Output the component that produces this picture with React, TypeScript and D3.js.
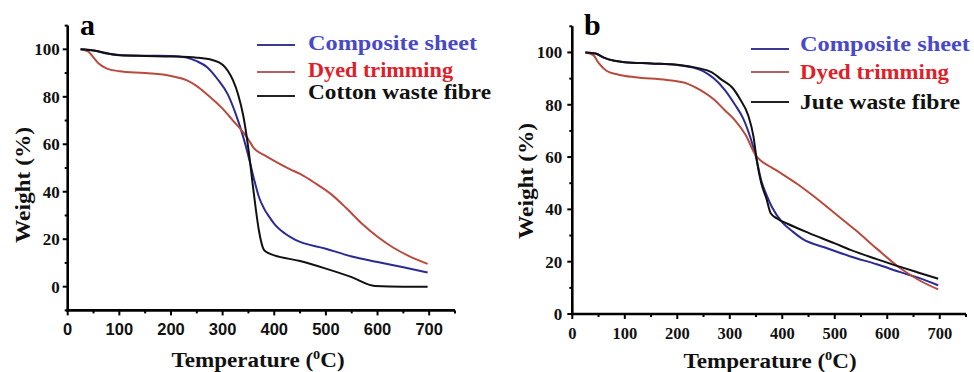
import React from "react";
import * as d3 from "d3";

type Pt = [number, number];

// ---------- Panel a data ----------
const aComposite: Pt[] = [
  [25, 100], [50, 99.5], [75, 98.2], [100, 97.6], [150, 97.3], [200, 97.2], [230, 96.5],
  [250, 95], [270, 92.5], [290, 87.5], [310, 81], [325, 73], [340, 63], [350, 55],
  [360, 46], [370, 38], [380, 33], [390, 29.5], [400, 26.5], [420, 22.5], [440, 19.8],
  [500, 16], [550, 12.7], [600, 10.4], [650, 8.2], [697, 6],
];
const aDyed: Pt[] = [
  [25, 100], [40, 99], [50, 96.5], [60, 94], [75, 92], [100, 90.8], [150, 90], [200, 88.8],
  [230, 87], [250, 84.5], [270, 81], [300, 75], [320, 70], [340, 65], [350, 62], [360, 58.5],
  [380, 55.5], [400, 53], [430, 49.5], [450, 47.5], [480, 43.5], [510, 39], [540, 33],
  [570, 26.5], [600, 21], [630, 16.5], [660, 13], [697, 9.6],
];
const aCotton: Pt[] = [
  [25, 100], [50, 99.5], [100, 97.5], [150, 97.2], [200, 97], [250, 96.5], [280, 95.5],
  [300, 93.5], [310, 91], [320, 87], [330, 81], [340, 72], [350, 58], [360, 40], [370, 24],
  [380, 15.5], [390, 14], [400, 13.2], [450, 10.8], [500, 7.6], [550, 4], [595, 0.3],
  [650, 0], [697, 0],
];

// ---------- Panel b data ----------
const bComposite: Pt[] = [
  [25, 100], [45, 99.5], [60, 98], [80, 96.8], [100, 96.3], [150, 95.8], [200, 95.2],
  [230, 94.2], [250, 92.8], [270, 90], [290, 85.8], [310, 80], [325, 75], [340, 67],
  [350, 60], [360, 51], [370, 45.5], [380, 41], [400, 35], [420, 31.5], [440, 28.5],
  [480, 25.5], [530, 22], [580, 19], [625, 16], [660, 13.8], [697, 11],
];
const bDyed: Pt[] = [
  [25, 100], [40, 99], [50, 96], [65, 93], [88, 91.5], [120, 90.5], [180, 89.5], [220, 88],
  [245, 85.5], [270, 82], [290, 78], [310, 74], [330, 68.5], [350, 60.5], [360, 58.5],
  [380, 56], [400, 53.5], [430, 49.5], [460, 45], [500, 38.5], [540, 32], [580, 25],
  [625, 17.5], [660, 13], [697, 9.4],
];
const bJute: Pt[] = [
  [25, 100], [45, 99.6], [60, 98], [80, 96.8], [100, 96.3], [150, 95.8], [200, 95.3],
  [240, 94], [265, 92.5], [285, 89.5], [305, 86.5], [320, 82], [335, 76], [345, 68],
  [352, 58], [360, 50], [370, 44], [378, 38.5], [390, 36.5], [410, 34.5], [450, 31],
  [500, 27], [530, 24.5], [580, 21], [625, 18], [660, 15.8], [697, 13.5],
];

const xTicks = [0, 100, 200, 300, 400, 500, 600, 700];
const xMinor = [50, 150, 250, 350, 450, 550, 650, 750];
const yTicks = [0, 20, 40, 60, 80, 100];
const yMinorA = [-10, 10, 30, 50, 70, 90, 110];
const yMinorB = [10, 30, 50, 70, 90, 110];

const legendA = ["Composite sheet", "Dyed trimming", "Cotton waste fibre"];
const legendB = ["Composite sheet", "Dyed trimming", "Jute waste fibre"];

const LINE_COLORS = ["#2b2b96", "#b84a3e", "#111111"];
const LEGEND_LINE_COLORS = ["#3a3a90", "#b06060", "#222222"];
const TEXT_COLORS = ["#4848c8", "#e02028", "#111111"];

const SERIF = "'Liberation Serif', 'Times New Roman', serif";
const SANS = "'Liberation Sans', Arial, sans-serif";

interface PanelProps {
  x: d3.ScaleLinear<number, number>;
  y: d3.ScaleLinear<number, number>;
  series: Pt[][];
  yMinor: number[];
  xFont: string;
  xLabelY: number;
  yLabelGap: number;
  letter: string;
  letterPos: [number, number];
  yTitlePos: [number, number];
  xTitlePos: [number, number];
  legend: string[];
  legendLineX: [number, number];
  legendLineY: number[];
  legendTextX: number;
  legendTextY: number[];
  legendWidths: number[];
}

function Panel(p: PanelProps) {
  const { x, y } = p;
  const [x0, x1] = x.range();
  const [y0, y1] = y.range();
  const line = d3
    .line<Pt>()
    .x((d) => x(d[0]))
    .y((d) => y(d[1]))
    .curve(d3.curveMonotoneX);
  return (
    <g>
      {p.series.map((s, i) => (
        <path
          key={i}
          d={line(s) || ""}
          fill="none"
          stroke={LINE_COLORS[i]}
          strokeWidth={2}
          strokeLinejoin="round"
        />
      ))}
      {/* axes */}
      <line x1={x0} x2={x0} y1={y0 + 1.2} y2={y1} stroke="#000" strokeWidth={2.6} />
      <line x1={x0 - 1.2} x2={x1} y1={y0} y2={y0} stroke="#000" strokeWidth={2.6} />
      {xTicks.map((t) => (
        <g key={"xt" + t}>
          <line x1={x(t)} x2={x(t)} y1={y0} y2={y0 + 5} stroke="#000" strokeWidth={2} />
          <text
            x={x(t)}
            y={p.xLabelY}
            textAnchor="middle"
            fontFamily={p.xFont}
            fontWeight="bold"
            fontSize={16.5}
            fill="#111"
          >
            {t}
          </text>
        </g>
      ))}
      {xMinor.map((t) => (
        <line key={"xm" + t} x1={x(t)} x2={x(t)} y1={y0} y2={y0 + 3} stroke="#000" strokeWidth={2} />
      ))}
      {yTicks.map((t) => (
        <g key={"yt" + t}>
          <line x1={x0 - 5} x2={x0} y1={y(t)} y2={y(t)} stroke="#000" strokeWidth={2} />
          <text
            x={x0 - p.yLabelGap}
            y={y(t)}
            dy="0.35em"
            textAnchor="end"
            fontFamily={SERIF}
            fontWeight="bold"
            fontSize={17}
            fill="#111"
          >
            {t}
          </text>
        </g>
      ))}
      {p.yMinor.map((t) => (
        <line key={"ym" + t} x1={x0 - 3} x2={x0} y1={y(t)} y2={y(t)} stroke="#000" strokeWidth={2} />
      ))}
      {/* panel letter */}
      <text
        x={p.letterPos[0]}
        y={p.letterPos[1]}
        fontFamily={SERIF}
        fontWeight="bold"
        fontSize={30}
        fill="#000"
      >
        {p.letter}
      </text>
      {/* y title */}
      <g transform={`translate(${p.yTitlePos[0]},${p.yTitlePos[1]}) rotate(-90)`}>
        <text
          textAnchor="middle"
          fontFamily={SERIF}
          fontWeight="bold"
          fontSize={21}
          fill="#111"
          textLength={116}
          lengthAdjust="spacingAndGlyphs"
        >
          Weight (%)
        </text>
      </g>
      {/* x title */}
      <g transform={`translate(${p.xTitlePos[0]},${p.xTitlePos[1]}) scale(1.1,1)`}>
        <text textAnchor="middle" fontFamily={SERIF} fontWeight="bold" fontSize={21} fill="#111">
          Temperature (
          <tspan fontSize={13} dy={-8}>
            0
          </tspan>
          <tspan dy={8}>C)</tspan>
        </text>
      </g>
      {/* legend */}
      {p.legend.map((name, i) => (
        <g key={"lg" + i}>
          <line
            x1={p.legendLineX[0]}
            x2={p.legendLineX[1]}
            y1={p.legendLineY[i]}
            y2={p.legendLineY[i]}
            stroke={LEGEND_LINE_COLORS[i]}
            strokeWidth={2.2}
          />
          <text
            x={p.legendTextX}
            y={p.legendTextY[i]}
            fontFamily={SERIF}
            fontWeight="bold"
            fontSize={20}
            fill={TEXT_COLORS[i]}
            textLength={p.legendWidths[i]}
            lengthAdjust="spacingAndGlyphs"
          >
            {name}
          </text>
        </g>
      ))}
    </g>
  );
}

export default function App() {
  const xA = d3.scaleLinear().domain([0, 750]).range([67.7, 455]);
  const yA = d3.scaleLinear().domain([-10, 110]).range([310.4, 25.6]);
  const xB = d3.scaleLinear().domain([0, 750]).range([572.3, 966]);
  const yB = d3.scaleLinear().domain([0, 110]).range([314, 26.3]);
  return (
    <svg
      width={974}
      height={372}
      style={{ position: "absolute", left: 0, top: 0, background: "#fff" }}
    >
      <rect width={974} height={372} fill="#fff" />
      <Panel
        x={xA}
        y={yA}
        series={[aComposite, aDyed, aCotton]}
        yMinor={yMinorA}
        xFont={SANS}
        xLabelY={335}
        yLabelGap={8}
        letter="a"
        letterPos={[80, 35]}
        yTitlePos={[30, 185]}
        xTitlePos={[258, 367]}
        legend={legendA}
        legendLineX={[257, 295]}
        legendLineY={[45, 72, 96]}
        legendTextX={308}
        legendTextY={[50, 77, 99]}
        legendWidths={[169, 145, 183]}
      />
      <Panel
        x={xB}
        y={yB}
        series={[bComposite, bDyed, bJute]}
        yMinor={yMinorB}
        xFont={SERIF}
        xLabelY={339}
        yLabelGap={10}
        letter="b"
        letterPos={[584, 35]}
        yTitlePos={[533, 181]}
        xTitlePos={[770, 368]}
        legend={legendB}
        legendLineX={[751, 789]}
        legendLineY={[49, 72, 102]}
        legendTextX={800}
        legendTextY={[51, 79, 109]}
        legendWidths={[170, 149, 160]}
      />
    </svg>
  );
}
